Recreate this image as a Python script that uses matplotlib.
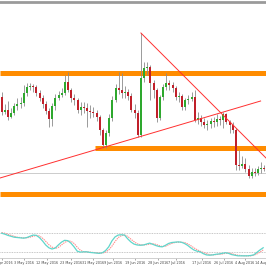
import matplotlib.pyplot as plt

# daily candles, price (arbitrary price units)
opens = [203,188,190,183,187,194,196,197,207,213,214,213,207,202,196,189,181,194,202,205,
         207,218,210,202,200,190,193,192,189,188,187,183,170,155,167,182,200,212,210,207,
         208,204,190,187,165,222,232,233,217,210,182,203,213,217,215,212,203,204,193,200,
         201,203,180,182,178,175,176,179,178,181,180,186,178,175,170,135,134,136,131,124,
         128,127,131,132]
closes = [188,190,183,187,194,196,197,207,213,214,213,207,202,196,189,181,194,202,205,207,
          218,210,202,200,190,193,192,189,188,187,183,170,155,167,182,200,212,210,207,208,
          204,190,187,165,222,232,233,217,210,182,203,213,217,215,212,203,204,193,200,201,
          203,180,182,178,175,176,179,178,181,180,186,178,175,170,135,134,136,131,124,128,
          127,131,132,131]
highs = [208,196,199,192,197,202,203,215,217,217,216,215,210,205,199,192,197,206,209,212,
         225,228,212,206,202,198,198,197,195,193,190,185,172,170,186,204,216,228,227,214,
         211,207,196,190,267,238,238,235,220,212,205,216,227,220,218,214,208,206,202,205,
         208,210,188,185,182,180,182,183,186,184,188,187,180,178,172,150,144,142,135,132,
         132,134,138,135]
lows = [185,186,180,182,185,190,192,194,204,210,208,204,199,192,186,173,174,190,200,203,
        205,208,198,195,187,185,187,173,182,183,179,165,152,152,164,179,198,206,202,202,
        200,188,182,163,163,218,225,200,202,178,180,200,210,210,208,200,198,190,190,196,
        199,178,176,174,172,170,172,173,174,175,172,176,167,167,130,130,132,128,122,122,
        124,125,127,129]

# stochastic-like oscillator in the lower panel
osc_main = [80,77,73,70,67,66,65,64,66,70,74,73,66,55,42,33,29,32,42,51,
            57,56,48,36,22,19,20,20,18,17,16,15,17,24,36,55,68,74,75,74,
            62,52,45,42,41,42,45,48,44,40,37,36,41,47,50,51,52,51,47,41,
            33,26,22,20,14,10,9,10,12,13,15,17,15,11,9,7,7,7,7,8,
            10,18,26,33]
osc_signal = [82,80,76,73,70,67,66,65,65,67,70,73,71,64,54,43,35,31,34,42,
              50,55,54,47,35,25,20,20,19,18,17,16,16,19,26,38,53,66,72,74,
              70,61,53,46,43,42,43,45,46,44,40,37,38,43,47,50,51,51,50,46,
              40,33,27,22,18,14,11,10,11,12,13,15,16,14,11,9,8,7,7,7,
              9,13,19,26]
osc_levels = [80, 20]

# drawn objects
band_levels = [227.5, 152, 106.5]
band_start = [0, 30, 0]
gray_level = 127
down_x = [44.5, 84]
down_y = [267, 142]
up_x = [0, 82.3]
up_y = [122, 199]

date_pos = [0.6, 7.6, 14.8, 22.4, 29.6, 35.8, 42.9, 50.2, 56.0, 64.0, 71.0, 77.6, 84.4]
date_labels = ['22 Apr 2016', '3 May 2016', '12 May 2016', '23 May 2016', '31 May 2016',
               '9 Jun 2016', '19 Jun 2016', '28 Jun 2016', '7 Jul 2016', '17 Jul 2016',
               '26 Jul 2016', '4 Aug 2016', '14 Aug 2016']

fig = plt.figure(figsize=(2.66, 2.66), dpi=100)
ax = fig.add_axes([0, 1 - 227 / 266, 1, 225 / 266])
ax2 = fig.add_axes([0, 1 - 258 / 266, 1, 31 / 266])

n = len(closes)
xs = [i + 0.5 for i in range(n)]

ax.axhline(gray_level, color='#cccccc', lw=0.7, zorder=1)
for lev, st in zip(band_levels, band_start):
    ax.hlines(lev, st, n, color='#ff8c00', lw=3.6, zorder=2)

ax.vlines(xs, lows, highs, color='#8a8a8a', lw=0.6, zorder=3)
for x, o, c in zip(xs, opens, closes):
    if c > o:
        col = '#2ea82e'
    elif c < o:
        col = '#c0202a'
    else:
        col = '#9a9a9a'
    h = abs(c - o)
    if h < 1:
        ax.bar(x, 1, bottom=min(o, c) - 0.5, width=0.6, color='#9a9a9a', zorder=4)
    else:
        ax.bar(x, h, bottom=min(o, c), width=0.6, color=col, zorder=4)

ax.plot(down_x, down_y, color='#ff3030', lw=0.7, zorder=5)
ax.plot(up_x, up_y, color='#ff3030', lw=0.7, zorder=5)

ax.set_xlim(0, n)
ax.set_ylim(73, 298)
ax.set_xticks([])
ax.set_yticks([])
for s in ['left', 'right']:
    ax.spines[s].set_visible(False)
ax.spines['top'].set_color('#9a9a9a')
ax.spines['top'].set_linewidth(2)
ax.spines['bottom'].set_color('#c8c8c8')
ax.spines['bottom'].set_linewidth(0.7)

# lower panel
for lev in osc_levels:
    ax2.axhline(lev, color='#b4b4b4', lw=0.6, ls=(0, (1, 1)))
ax2.plot(xs, osc_signal, color='#ff8a8a', lw=0.8, ls=(0, (1.2, 0.8)))
ax2.plot(xs, osc_main, color='#5fd6cb', lw=0.9)
ax2.set_xlim(0, n)
ax2.set_ylim(0, 100)
ax2.set_yticks([])
ax2.set_xticks(date_pos)
ax2.set_xticklabels(date_labels, family=['Liberation Sans Narrow', 'DejaVu Sans'])
ax2.tick_params(axis='x', length=1.5, width=0.5, color='#888888', labelsize=2.4,
                labelcolor='#444444', pad=0.8)
for s in ['left', 'right', 'top']:
    ax2.spines[s].set_visible(False)
ax2.spines['bottom'].set_color('#c8c8c8')
ax2.spines['bottom'].set_linewidth(0.6)

fig.savefig('out.png', dpi=100)
